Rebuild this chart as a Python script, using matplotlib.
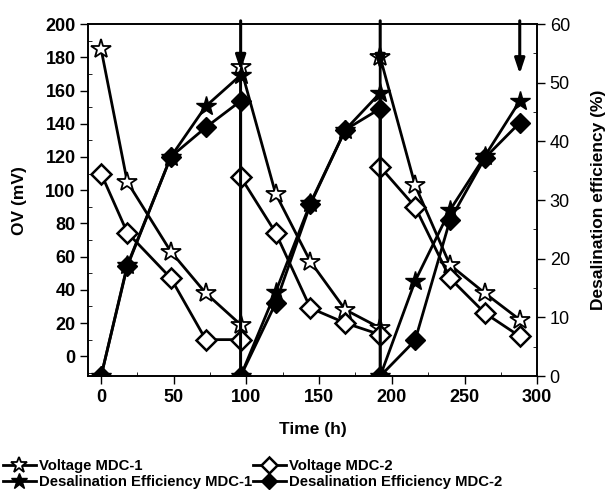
import numpy as np
import matplotlib
matplotlib.use("Agg")
import matplotlib.pyplot as plt
from matplotlib.ticker import MultipleLocator

plt.rcParams['font.family'] = ['Liberation Sans', 'DejaVu Sans']

# time points (h), three cycles, reset at 96 and 192 h
time = [0, 18, 48, 72, 96, 96, 120, 144, 168, 192, 192, 216, 240, 264, 288]

# open-circuit voltage (mV)
volt_mdc1 = [185, 105, 63, 38, 19, 174, 98, 57, 28, 17, 180, 103, 55, 38, 22]
volt_mdc2 = [110, 74.5, 47, 10, 10, 108, 74.5, 29, 20, 13, 114, 90, 47, 26, 12]

# desalination efficiency (%)
eff_mdc1 = [0, 18.9, 37.4, 46, 51.3, 0, 14.3, 29.5, 42, 48.3, 0, 16.2, 28.3, 37.5, 46.9]
eff_mdc2 = [0, 18.7, 37.4, 42.4, 46.9, 0, 12.4, 29.3, 42, 45.6, 0, 6.1, 26.6, 37.2, 43.2]

# cycle ends marked with arrows
arrow_t = [96, 192, 288]

fig = plt.figure(figsize=(6.07, 4.93), dpi=100)
ax = fig.add_axes([0.145, 0.237, 0.74, 0.714])
ax2 = ax.twinx()

lw = 2.0
v1, = ax.plot(time, volt_mdc1, '-', color='black', lw=lw, marker='*', ms=15,
              mfc='white', mec='black', mew=1.3, zorder=3)
v2, = ax.plot(time, volt_mdc2, '-', color='black', lw=lw, marker='D', ms=10,
              mfc='white', mec='black', mew=1.8, zorder=3)
e1, = ax2.plot(time, eff_mdc1, '-', color='black', lw=lw, marker='*', ms=15,
               mfc='black', mec='black', zorder=3)
e2, = ax2.plot(time, eff_mdc2, '-', color='black', lw=lw, marker='D', ms=10,
               mfc='black', mec='black', zorder=3)

for t in arrow_t:
    ax.annotate('', xy=(t, 172 if t != 288 else 170), xytext=(t, 202),
                xycoords='data', annotation_clip=False,
                arrowprops=dict(arrowstyle='-|>,head_length=0.9,head_width=0.3',
                                color='black', lw=2.2, shrinkA=0, shrinkB=0))

ax.set_xlim(-9, 300)
ax.set_ylim(-12, 200)
ax2.set_ylim(0, 60)

ax.set_xticks([0, 50, 100, 150, 200, 250, 300])
ax.set_yticks(range(0, 201, 20))
ax2.set_yticks(range(0, 61, 10))
ax.xaxis.set_minor_locator(MultipleLocator(25))
ax.yaxis.set_minor_locator(MultipleLocator(10))
ax2.yaxis.set_minor_locator(MultipleLocator(5))

ax.tick_params(axis='both', which='major', direction='out', length=6, width=1,
               labelsize=13, pad=3)
ax.tick_params(axis='both', which='minor', direction='in', length=3, width=0.6)
ax2.tick_params(axis='y', which='major', direction='out', length=6, width=1,
                labelsize=13, pad=3)
ax2.tick_params(axis='y', which='minor', direction='in', length=3, width=0.6)
for lab in ax.get_xticklabels() + ax.get_yticklabels():
    lab.set_fontweight('bold')

for a in (ax, ax2):
    for s in a.spines.values():
        s.set_linewidth(1.2)

ax.set_xlabel('Time (h)', fontsize=12.5, fontweight='bold', labelpad=12)
ax.set_ylabel('OV (mV)', fontsize=12.5, fontweight='bold', labelpad=13)
ax2.set_ylabel('Desalination efficiency (%)', fontsize=12.5, fontweight='bold',
               labelpad=15)

fig.legend([v1, e1, v2, e2],
           ['Voltage MDC-1', 'Desalination Efficiency MDC-1',
            'Voltage MDC-2', 'Desalination Efficiency MDC-2'],
           ncol=2, loc='lower left', bbox_to_anchor=(-0.01, -0.01),
           frameon=False, prop={'weight': 'bold', 'size': 10.7},
           handlelength=2.2, handletextpad=0.2, columnspacing=0.1,
           labelspacing=0.15, borderaxespad=0.2, markerscale=0.8)

fig.savefig('out.png', dpi=100)
